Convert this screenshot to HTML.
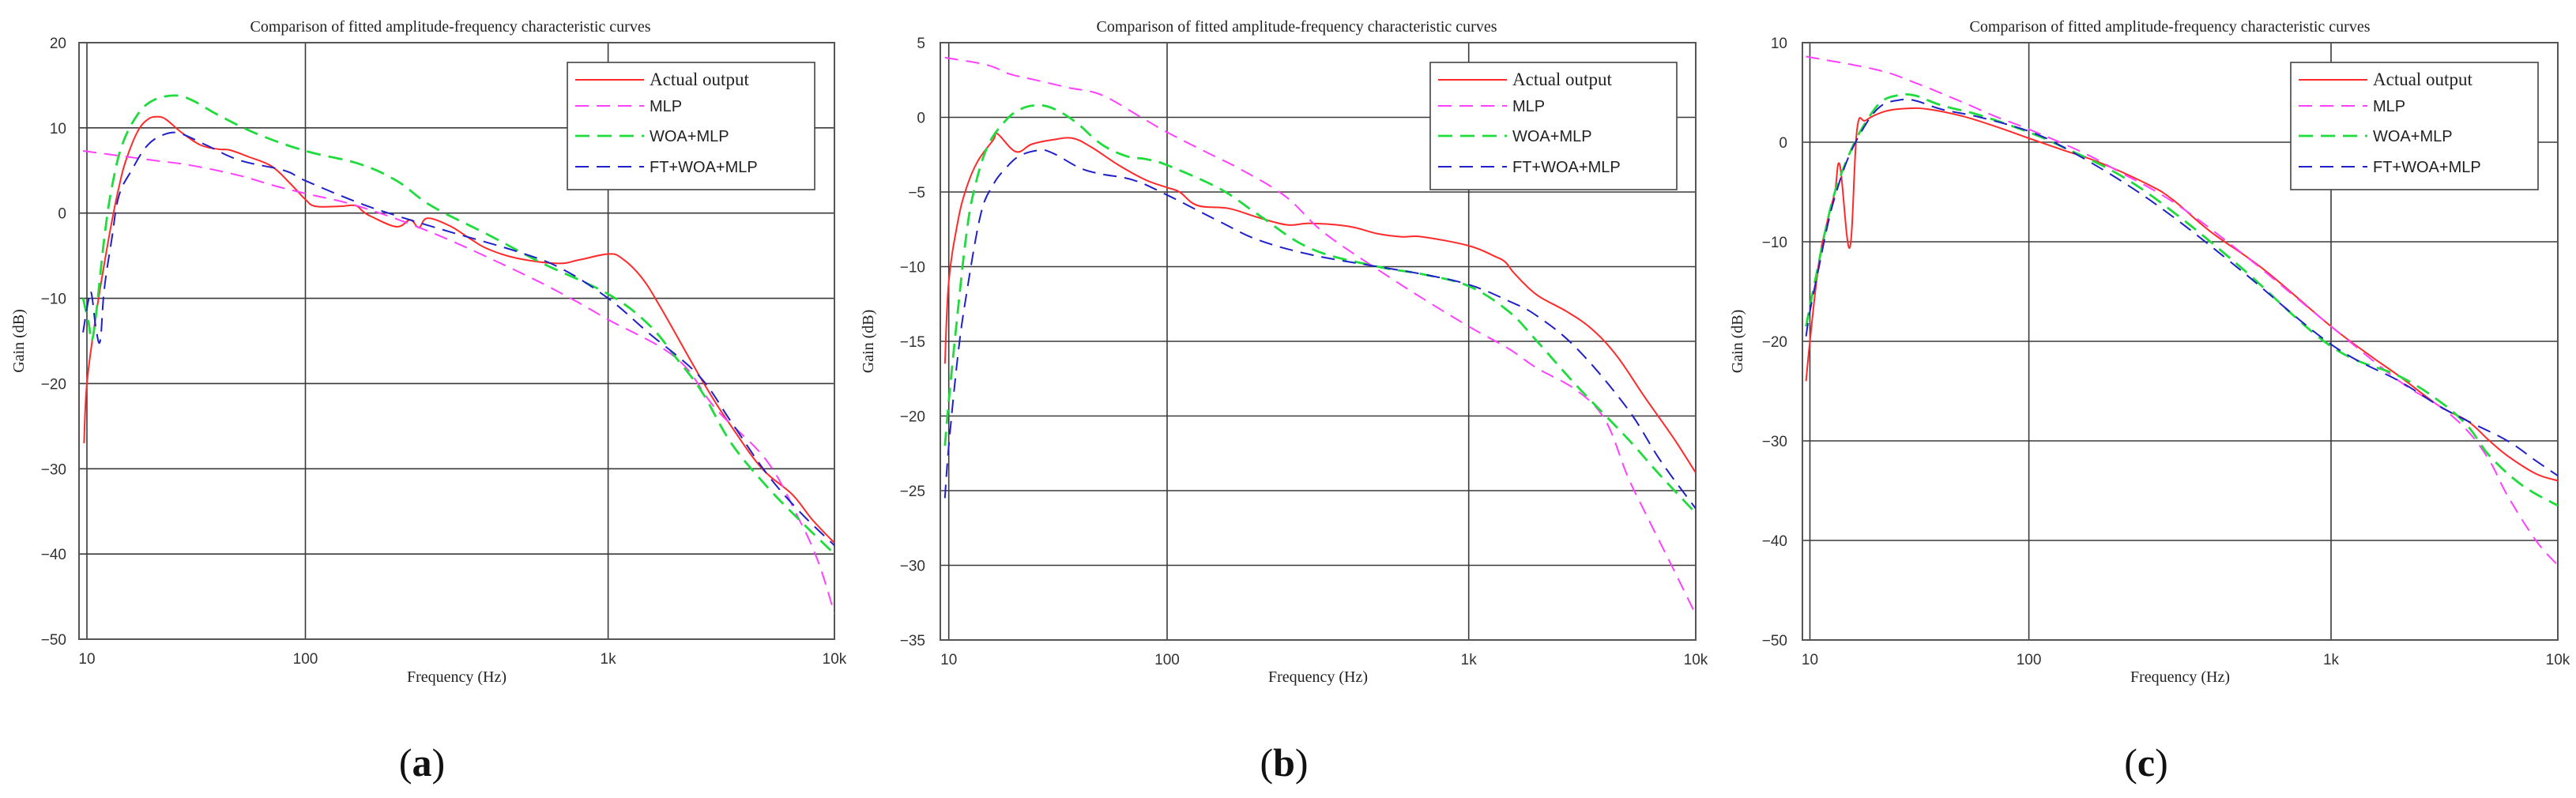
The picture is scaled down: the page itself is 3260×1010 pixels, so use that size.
<!DOCTYPE html>
<html><head><meta charset="utf-8"><style>
html,body{margin:0;padding:0;background:#fff}
svg{display:block}
</style></head><body>
<svg id="fig" width="3260" height="1010" viewBox="0 0 3260 1010"></svg>
<script>
// ---------- data: panel (a) ----------
const aActualF=[9.7,10,11,12,13,14,15,17,19,21,23,27,33,40,45,55,70,85,100,108,130,146,155,165,200,222,237,253,300,350,400,500,680,800,1000,1150,1400,1700,2650,3500,4800,6500,8000,10000];
const aActualG=[-27,-20,-12,-6,-1,3,6,9.5,11,11.3,11,9.5,8,7.5,7.4,6.6,5.5,3.5,1.6,0.8,0.8,0.9,0.2,-0.4,-1.6,-0.8,-1.7,-0.6,-1.5,-3,-4.2,-5.3,-5.9,-5.5,-4.8,-5.3,-7.5,-11,-20,-25,-30,-33,-36,-38.7];
const aMlpF=[9.6,20,30,50,70,100,150,262,500,752,1000,2000,3000,5000,7000,8500,10000];
const aMlpG=[7.3,6.2,5.6,4.4,3.3,2.3,0.8,-2.3,-6.8,-10,-12.5,-17,-23,-29,-36,-41,-47];
const aWoaF=[9.6,10.2,10.5,11,12,13,14.5,17,20,25,30,40,60,100,150,200,262,400,600,1000,1500,2000,2600,3500,5000,7000,10000];
const aWoaG=[-10,-13,-15,-12,-3,3,8,11.5,13.2,13.8,13.3,11.5,9.3,7.3,5.8,3.8,0.8,-2.5,-5.8,-9.5,-13,-17,-21,-27,-32,-36,-40];
const aFtF=[9.6,10.2,10.5,11,11.5,12,13,14,16,19,23,27,35,50,80,100,150,200,300,500,700,1000,1500,2500,3500,5000,7000,10000];
const aFtG=[-14,-10,-9.5,-13.5,-15,-9,-3,2,5,8,9.3,9.3,8,6.2,5,3.8,1.2,-0.3,-2.2,-4.5,-6.5,-10,-14,-19,-24.5,-30.5,-35,-39];
// ---------- data: panel (b) ----------
const bActualF=[9.6,10,11,12,13.5,16,16.7,20.3,24,30,37,45,60,80,100,110,126,160,200,250,300,400,500,600,700,1000,1300,1450,1600,2000,2700,3500,4500,6000,8000,10000];
const bActualG=[-16.5,-11,-7,-4.8,-3,-1.5,-1.1,-2.3,-1.8,-1.5,-1.4,-2,-3.2,-4.2,-4.7,-5,-5.9,-6.1,-6.7,-7.2,-7.1,-7.3,-7.8,-8,-8,-8.6,-9.3,-9.7,-10.5,-11.9,-13,-14.2,-16,-18.8,-21.5,-23.8];
const bMlpF=[9.6,15,19,25,35,50,76,100,137,176,247,330,500,700,1000,1500,2000,3000,4000,5000,6000,8000,10000];
const bMlpG=[4,3.5,2.9,2.5,2,1.5,0,-1,-2.4,-3.5,-5.3,-7.7,-10.2,-12.1,-14,-15.5,-16.8,-18.3,-20.3,-24,-26.5,-30.3,-33.3];
const bWoaF=[9.6,10,11,12,13,15,18,21,25,30,38,50,65,80,100,150,200,300,500,700,1000,1500,2000,3000,5000,7000,10000];
const bWoaG=[-22,-19,-13,-8,-5,-2,-0.3,0.5,0.8,0.6,-0.3,-1.8,-2.6,-2.8,-3.2,-4.8,-6.5,-8.8,-10,-10.5,-11.3,-13,-15,-18,-21.5,-24,-26.5];
const bFtF=[9.6,10,11,12,14,16,18,21,26,30,40,50,70,100,150,200,300,500,700,1000,1500,2000,3000,5000,7000,10000];
const bFtG=[-25.5,-22,-16,-12,-6.5,-4.5,-3.5,-2.6,-2.2,-2.4,-3.4,-3.8,-4.2,-5.2,-7,-8.2,-9.2,-10,-10.5,-11.2,-12.3,-13.3,-15.5,-19.5,-23,-26.2];
// ---------- data: panel (c) ----------
const cActualF=[9.6,10,11,12,13,13.7,15.2,16.4,18,22,28,35,50,70,100,130,170,250,300,400,600,1000,1500,2000,3000,4000,5000,6000,8000,10000];
const cActualG=[-24,-20,-12,-8,-5,-2.3,-10.6,1.2,2.2,3.1,3.4,3.3,2.6,1.6,0.4,-0.8,-2,-4.3,-5.8,-9,-12.8,-18.5,-21.5,-23.5,-26.5,-28,-30,-31.5,-33.3,-34];
const cMlpF=[9.6,20,30,50,70,100,150,200,300,500,1000,2000,3000,4000,5000,6000,8000,10000];
const cMlpG=[8.6,7.3,6,4,2.6,1.3,-1,-3,-6,-11,-18.5,-24,-26.5,-29,-32,-35.5,-40,-42.5];
const cWoaF=[9.6,10,11,12,13,14,16,18,21,25,30,40,60,100,130,200,300,500,1000,2000,3000,4000,5000,7000,10000];
const cWoaG=[-18.5,-16.5,-12,-8,-5,-3,0,2,4,4.7,4.7,3.7,2.7,1,-0.5,-3.3,-7,-12.5,-20.5,-23.5,-26,-28.5,-31.5,-34.5,-36.5];
const cFtF=[9.6,10,11,12,13,15,18,21,25,30,40,60,100,130,200,300,500,1000,2000,3000,4000,6000,8000,10000];
const cFtG=[-19.5,-17,-12.5,-8.5,-5.5,-1.5,1.8,3.6,4.2,4.2,3.3,2.5,1.1,-0.5,-3.8,-7.5,-12.8,-20.3,-24,-26.5,-28,-30,-32,-33.5];
// ---------- axis tick labels ----------
const xTickLabels=["10","100","1k","10k"];
const xTickValues=[10,100,1000,10000];
const aYTicks=[20,10,0,-10,-20,-30,-40,-50];
const bYTicks=[5,0,-5,-10,-15,-20,-25,-30,-35];
const cYTicks=[10,0,-10,-20,-30,-40,-50];
const legendLabels=["Actual output","MLP","WOA+MLP","FT+WOA+MLP"];

const NS="http://www.w3.org/2000/svg";
const svg=document.getElementById('fig');
function mk(tag,attrs,parent){const e=document.createElementNS(NS,tag);for(const k in attrs)e.setAttribute(k,attrs[k]);(parent||svg).appendChild(e);return e;}

const styles=[
 {stroke:"#ff2a2a",w:2,dash:""},
 {stroke:"#ff40ff",w:2,dash:"17 10"},
 {stroke:"#1fdc3c",w:2.8,dash:"18 10"},
 {stroke:"#2020c8",w:2,dash:"17 10"}
];

function smoothPath(P){
 let d="M"+P[0][0].toFixed(1)+","+P[0][1].toFixed(1);
 for(let i=0;i<P.length-1;i++){
  const p0=P[Math.max(0,i-1)],p1=P[i],p2=P[i+1],p3=P[Math.min(P.length-1,i+2)];
  const t=0.18;
  const c1x=p1[0]+(p2[0]-p0[0])*t,c1y=p1[1]+(p2[1]-p0[1])*t;
  const c2x=p2[0]-(p3[0]-p1[0])*t,c2y=p2[1]-(p3[1]-p1[1])*t;
  d+=" C"+c1x.toFixed(1)+","+c1y.toFixed(1)+" "+c2x.toFixed(1)+","+c2y.toFixed(1)+" "+p2[0].toFixed(1)+","+p2[1].toFixed(1);
 }
 return d;
}

const panels=[
 {id:"a",left:100,right:1056,top:54,bottom:809,decPx:[110,386.5,769.6,1056],ymax:20,ymin:-50,yt:aYTicks,
  series:[[aActualF,aActualG],[aMlpF,aMlpG],[aWoaF,aWoaG],[aFtF,aFtG]],
  leg:{x:718,y:79,w:313,h:161},tickX:84,ylabX:30,titleX:570,capX:534},
 {id:"b",left:1190,right:2146,top:54,bottom:810,decPx:[1200.7,1477,1858.7,2146],ymax:5,ymin:-35,yt:bYTicks,
  series:[[bActualF,bActualG],[bMlpF,bMlpG],[bWoaF,bWoaG],[bFtF,bFtG]],
  leg:{x:1810,y:79,w:312,h:161},tickX:1171,ylabX:1105,titleX:1641,capX:1625},
 {id:"c",left:2281,right:3237,top:54,bottom:810,decPx:[2290.5,2567.6,2950,3237],ymax:10,ymin:-50,yt:cYTicks,
  series:[[cActualF,cActualG],[cMlpF,cMlpG],[cWoaF,cWoaG],[cFtF,cFtG]],
  leg:{x:2899,y:79,w:313,h:161},tickX:2262,ylabX:2205,titleX:2746,capX:2716}
];

panels.forEach(p=>{
 const g=mk('g',{});
 
 
 const xs=f=>{
  const L=Math.log10(f);
  if(L<=1){const d=p.decPx[1]-p.decPx[0];return p.decPx[0]+(L-1)*d;}
  const i=Math.min(2,Math.floor(L-1));
  return p.decPx[i]+(L-1-i)*(p.decPx[i+1]-p.decPx[i]);
 };
 const ys=v=>p.top+(p.ymax-v)/(p.ymax-p.ymin)*(p.bottom-p.top);
 p.yt.forEach(v=>{
  const y=ys(v);
  const l=mk('line',{x1:p.left,x2:p.right,y1:y,y2:y,stroke:"#3a3a3a","stroke-width":1.6},g);
  
  
  const t=mk('text',{x:p.tickX,y:y+7,"text-anchor":"end","font-family":"Liberation Sans, sans-serif","font-size":19,fill:"#333"},g);
  t.textContent=(v<0?"\u2212"+(-v):String(v));
  
  
 });
 xTickValues.forEach((f,i)=>{
  const x=xs(f);
  const l=mk('line',{x1:x,x2:x,y1:p.top,y2:p.bottom,stroke:"#3a3a3a","stroke-width":1.6},g);
  
  
  const t=mk('text',{x:x,y:p.bottom+31,"text-anchor":"middle","font-family":"Liberation Sans, sans-serif","font-size":19,fill:"#333"},g);
  t.textContent=xTickLabels[i];
  
  
 });
 const box=mk('rect',{x:p.left,y:p.top,width:p.right-p.left,height:p.bottom-p.top,fill:"none",stroke:"#555","stroke-width":2},g);
 
 
 const clipId='clip'+p.id;
 const cp=mk('clipPath',{id:clipId},g);
 mk('rect',{x:p.left,y:p.top,width:p.right-p.left,height:p.bottom-p.top},cp);
 const names=['actual-output-line','mlp-line','woa-mlp-line','ft-woa-mlp-line'];
 p.series.forEach((s,k)=>{
  const P=s[0].map((f,i)=>[xs(f),ys(s[1][i])]);
  const st=styles[k];
  const pl=mk('path',{d:smoothPath(P),fill:"none",stroke:st.stroke,"stroke-width":st.w,"stroke-dasharray":st.dash,"stroke-linejoin":"round","clip-path":"url(#"+clipId+")"},g);
  
  
 });
 const lg=mk('g',{},g);
 
 
 mk('rect',{x:p.leg.x,y:p.leg.y,width:p.leg.w,height:p.leg.h,fill:"#fff",stroke:"#444","stroke-width":1.6},lg);
 const ly=[101,134,172,211];
 legendLabels.forEach((lab,k)=>{
  const st=styles[k];
  const ln=mk('line',{x1:p.leg.x+10,x2:p.leg.x+97,y1:p.leg.y+ly[k]-79,y2:p.leg.y+ly[k]-79,stroke:st.stroke,"stroke-width":st.w,"stroke-dasharray":st.dash},lg);
  
  
  const serif=k===0;
  const t=mk('text',{x:p.leg.x+104,y:p.leg.y+ly[k]-79+7,"font-family":serif?"Liberation Serif, serif":"Liberation Sans, sans-serif","font-size":serif?23:20,fill:"#222"},lg);
  t.textContent=lab;
  
  
 });
 const ti=mk('text',{x:p.titleX,y:40,"text-anchor":"middle","font-family":"Liberation Serif, serif","font-size":20,fill:"#222"},g);
 ti.textContent="Comparison of fitted amplitude-frequency characteristic curves";
 
 
 const xl=mk('text',{x:(p.left+p.right)/2,y:863,"text-anchor":"middle","font-family":"Liberation Serif, serif","font-size":20,fill:"#222"},g);
 xl.textContent="Frequency (Hz)";
 
 
 const yc=(p.top+p.bottom)/2;
 const yl=mk('text',{x:p.ylabX,y:yc,"text-anchor":"middle","font-family":"Liberation Serif, serif","font-size":20,fill:"#222",transform:"rotate(-90 "+p.ylabX+" "+yc+")"},g);
 yl.textContent="Gain (dB)";
 
 
 const cap=mk('text',{x:p.capX,y:982,"text-anchor":"middle","font-family":"Liberation Serif, serif","font-size":50,fill:"#111"},g);
 cap.innerHTML='(<tspan font-weight="bold">'+p.id+'</tspan>)';
 
 
});
</script>
</body></html>
